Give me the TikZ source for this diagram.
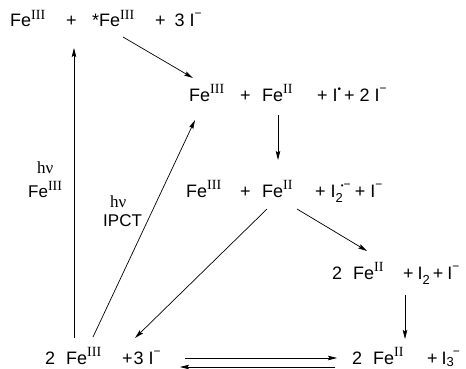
\documentclass[tikz,border=0pt]{standalone}
\usepackage{fontspec}
\setmainfont{Liberation Sans}
\newfontfamily\rmnfont{Liberation Serif}
\usetikzlibrary{arrows.meta}
\newcommand\ox[1]{\raisebox{0.4em}{\fontsize{14}{14}\selectfont\rmnfont #1}}
\newcommand\mn{\raisebox{0.5em}{\fontsize{12}{12}\selectfont −}}
\newcommand\sbs[1]{\raisebox{-0.28em}{\fontsize{13}{13}\selectfont #1}}
\newcommand\rdot{\raisebox{0.5em}{\fontsize{10}{10}\selectfont •}}
\begin{document}
\begin{tikzpicture}[x=1pt,y=-1pt,
  t/.style={anchor=base west,inner sep=0pt,font=\fontsize{18}{20}\selectfont},
  lbl/.style={anchor=base west,inner sep=0pt,font=\fontsize{17}{19}\selectfont},
  arr/.style={line width=0.7pt,-{Stealth[length=9pt,width=4.5pt,inset=1.5pt]}}]
\useasboundingbox (0,0) rectangle (466,369);
% row 1
\node[t] (a1) at (10,27) {Fe\ox{III}};
\node[t] (a2) at (66,27) {+};
\node[t] (a3) at (92,27) {*Fe\ox{III}};
\node[t] (a4) at (155,27) {+\hspace{9pt}3\hspace{5pt}I\mn};
% row 2
\node[t] (b1) at (189,101) {Fe\ox{III}};
\node[t] (b2) at (240,101) {+};
\node[t] (b3) at (262,101) {Fe\ox{II}};
\node[t] (b4) at (317,101) {+\hspace{5pt}I\rdot\hspace{3pt}+\hspace{5pt}2\hspace{5pt}I\mn};
% row 3
\node[t] (c1) at (186,197) {Fe\ox{III}};
\node[t] (c2) at (240,197) {+};
\node[t] (c3) at (262,197) {Fe\ox{II}};
\node[t] (c4) at (315,197) {+\hspace{5pt}I\sbs{2}\hspace{-2pt}\raisebox{0.5em}{\fontsize{8}{8}\selectfont •\fontsize{12}{12}\selectfont −}\hspace{4pt}+\hspace{5pt}I\mn};
% row 4
\node[t] (d1) at (332,279) {2};
\node[t] (d2) at (353,279) {Fe\ox{II}};
\node[t] (d3) at (403,279) {+\hspace{4pt}I\sbs{2}\hspace{3pt}+\hspace{4pt}I\mn};
% row 5
\node[t] (e1) at (45,364) {2};
\node[t] (e2) at (66,364) {Fe\ox{III}};
\node[t] (e3) at (122,364) {+\hspace{1pt}3\hspace{5pt}I\mn};
\node[t] (f1) at (352,364) {2};
\node[t] (f2) at (373,364) {Fe\ox{II}};
\node[t] (f3) at (427,364) {+\hspace{4pt}I\raisebox{-0.12em}{\fontsize{13}{13}\selectfont 3}\hspace{-1pt}\mn};
% labels
\node[lbl] (l1) at (37,173) {\rmnfont hν};
\node[lbl] (l2) at (28,197) {Fe\ox{III}};
\node[lbl] (l3) at (110,207) {\rmnfont hν};
\node[lbl] (l4) at (103,226) {IPCT};
% arrow end points
\coordinate (s1) at (74,338);  \coordinate (t1) at (74,48);
\coordinate (s2) at (93,337);  \coordinate (t2) at (195,120);
\coordinate (s3) at (123,37);  \coordinate (t3) at (193,78);
\coordinate (s4) at (278,115); \coordinate (t4) at (278,160);
\coordinate (s5) at (267,209); \coordinate (t5) at (135,338);
\coordinate (s6) at (297,209); \coordinate (t6) at (367,251);
\coordinate (s7) at (405,295); \coordinate (t7) at (405,339);
\coordinate (s8) at (185,358); \coordinate (t8) at (337,358);
\coordinate (s9) at (335,367); \coordinate (t9) at (180,367);
\foreach \i in {1,...,9} {\draw[arr] (s\i) -- (t\i);}
\end{tikzpicture}
\end{document}
